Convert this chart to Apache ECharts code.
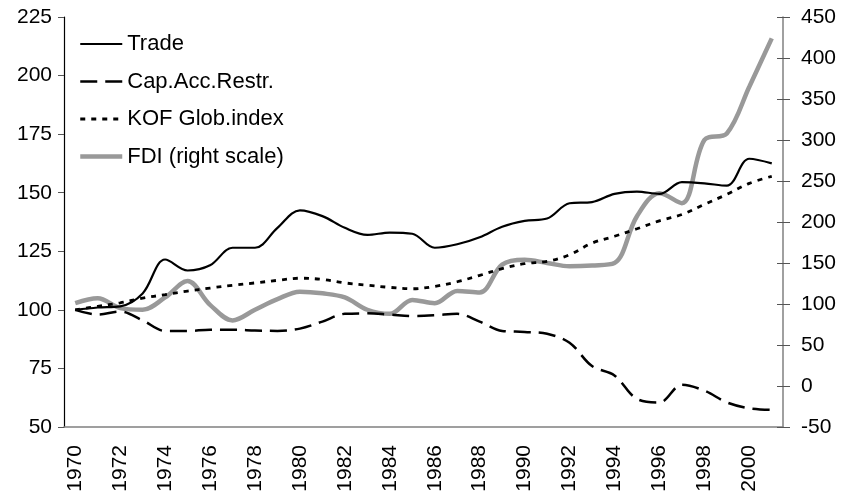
<!DOCTYPE html>
<html>
<head>
<meta charset="utf-8">
<title>Globalisation indicators 1970-2001</title>
<script src="https://cdn.jsdelivr.net/npm/echarts@6/dist/echarts.min.js"></script>
<style>
  html, body { margin: 0; padding: 0; background: #fff; }
  #chart { width: 844px; height: 500px; }
</style>
</head>
<body>
<div id="chart"></div>
<script>
// years on the category axis
const years = []
for (let y = 1970; y <= 2001; y++) years.push(String(y))

// left scale, 1970 = 100
const trade = [100, 101, 101.5, 107, 121.5, 116.8, 119, 126.5, 126.5, 135, 142.5, 140, 135, 132, 133, 132.5,
  126.5, 128, 131, 135.5, 138, 139, 145.5, 146, 149.5, 150.5, 149.5, 154.5, 154, 153, 164.5, 162.5]
const capAccRestr = [100, 98, 99.3, 95.5, 91, 91, 91.5, 91.5, 91.2, 91, 92, 95, 98.3, 98.5, 98, 97.4,
  97.7, 98.3, 95, 91, 90.6, 89.8, 86, 76, 72, 62, 60.5, 68, 65.5, 60.5, 58, 57.3]
const kof = [100, 101.5, 103, 105, 106.5, 108, 109.3, 110.5, 111.5, 112.6, 113.5, 113, 111.5, 110.5, 109.6, 109,
  110, 112, 114.7, 117.6, 119.7, 120.7, 123.5, 128.5, 131.4, 134.6, 138, 140.7, 145, 149.3, 154, 157]
// right scale
const fdi = [101, 107, 95, 93, 108, 128, 99, 80, 93, 106, 115, 113, 108, 93, 88, 105,
  101, 116, 114, 148, 154, 150, 146, 147, 150, 207, 235, 223, 300, 308, 365, 424]

const font = 'Liberation Sans'
const txt = { color: '#000', fontFamily: font, fontSize: 21 }

const chart = echarts.init(document.getElementById('chart'), null, { renderer: 'canvas' })

chart.setOption({
  animation: false,
  backgroundColor: '#fff',
  grid: { left: 64, right: 61, top: 17, bottom: 73 },
  legend: {
    orient: 'vertical',
    left: 73,
    top: 28,
    itemWidth: 42,
    itemHeight: 20,
    itemGap: 15.5,
    textStyle: { color: '#000', fontFamily: font, fontSize: 22 },
    // hide the round marker the line icon gets, keep the line
    itemStyle: { opacity: 0 },
    data: [
      { name: 'Trade', lineStyle: { width: 2.2 } },
      { name: 'Cap.Acc.Restr.', lineStyle: { width: 2.5 } },
      { name: 'KOF Glob.index', lineStyle: { width: 2.8 } },
      { name: 'FDI (right scale)', lineStyle: { width: 4.5 } }
    ]
  },
  xAxis: {
    type: 'category',
    data: years,
    boundaryGap: true,
    axisLine: { onZero: false, lineStyle: { color: '#808080', width: 1.5 } },
    axisTick: { interval: 0, length: 6, lineStyle: { color: '#555' } },
    axisLabel: Object.assign({ interval: 1, rotate: 90, margin: 18 }, txt)
  },
  yAxis: [
    {
      type: 'value', min: 50, max: 225, interval: 25,
      axisLine: { show: true, lineStyle: { color: '#000', width: 1.2 } },
      axisTick: { show: true, length: 6, lineStyle: { color: '#555' } },
      axisLabel: Object.assign({ margin: 12 }, txt),
      splitLine: { show: false }
    },
    {
      type: 'value', position: 'right', min: -50, max: 450, interval: 50,
      axisLine: { show: true, onZero: false, lineStyle: { color: '#808080', width: 1.5 } },
      axisTick: { show: true, length: 7, lineStyle: { color: '#555' } },
      axisLabel: Object.assign({ margin: 18 }, txt),
      splitLine: { show: false }
    },
    {
      // only the inner half of the right ticks
      type: 'value', position: 'right', min: -50, max: 450, interval: 50,
      axisLine: { show: false, onZero: false },
      axisTick: { show: true, inside: true, length: 6, lineStyle: { color: '#555' } },
      axisLabel: { show: false },
      splitLine: { show: false }
    }
  ],
  series: [
    {
      name: 'Trade', type: 'line', data: trade, yAxisIndex: 0,
      smooth: 0.35, symbol: 'none',
      lineStyle: { color: '#000', width: 2.2 },
      itemStyle: { color: '#000' }
    },
    {
      name: 'Cap.Acc.Restr.', type: 'line', data: capAccRestr, yAxisIndex: 0,
      smooth: 0.35, symbol: 'none',
      lineStyle: { color: '#000', width: 2.5, type: [17, 8] },
      itemStyle: { color: '#000' }
    },
    {
      name: 'KOF Glob.index', type: 'line', data: kof, yAxisIndex: 0,
      smooth: 0.35, symbol: 'none',
      lineStyle: { color: '#000', width: 2.8, type: [5, 6] },
      itemStyle: { color: '#000' }
    },
    {
      name: 'FDI (right scale)', type: 'line', data: fdi, yAxisIndex: 1,
      smooth: 0.35, symbol: 'none', z: 1,
      lineStyle: { color: '#999', width: 4.5 },
      itemStyle: { color: '#999' }
    }
  ]
})
</script>
</body>
</html>
